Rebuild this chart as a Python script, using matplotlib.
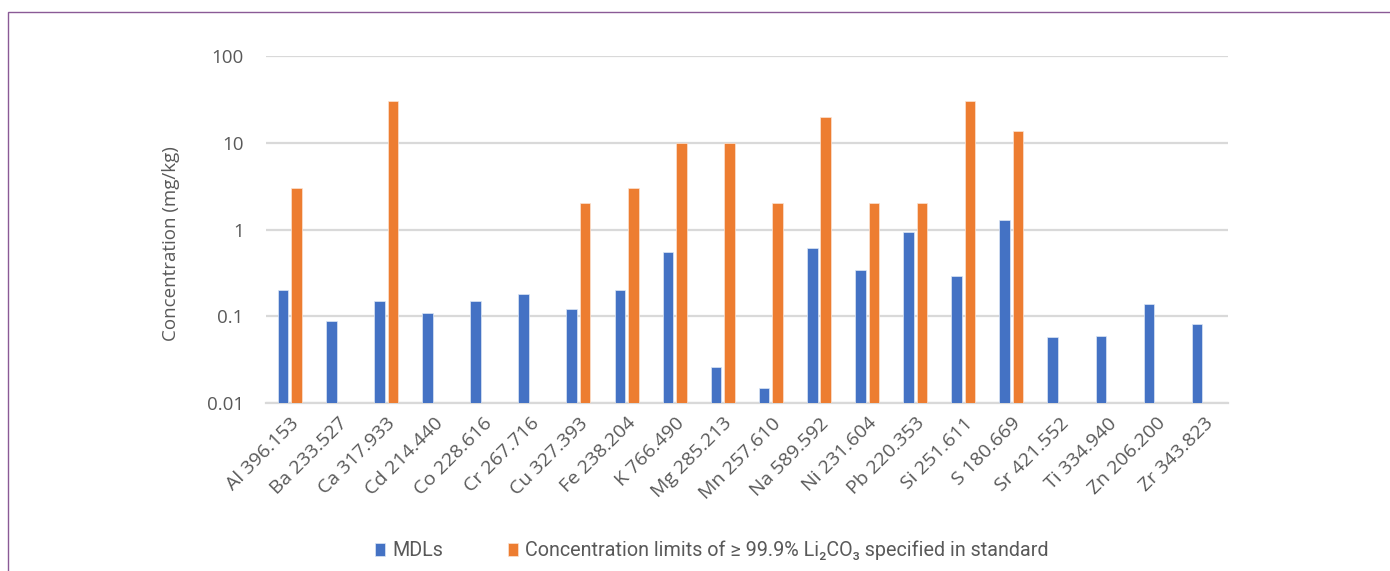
import matplotlib.pyplot as plt
import numpy as np
from matplotlib.patches import Rectangle

# emission lines measured
lines = [
    "Al 396.153", "Ba 233.527", "Ca 317.933", "Cd 214.440", "Co 228.616",
    "Cr 267.716", "Cu 327.393", "Fe 238.204", "K 766.490", "Mg 285.213",
    "Mn 257.610", "Na 589.592", "Ni 231.604", "Pb 220.353", "Si 251.611",
    "S 180.669", "Sr 421.552", "Ti 334.940", "Zn 206.200", "Zr 343.823",
]

# method detection limits (mg/kg)
mdls = [
    0.20, 0.088, 0.15, 0.108, 0.15,
    0.18, 0.12, 0.20, 0.55, 0.026,
    0.015, 0.61, 0.34, 0.94, 0.29,
    1.28, 0.057, 0.06, 0.14, 0.082,
]

# limits for battery-grade Li2CO3 (mg/kg); nan where no limit is set
limits = [
    3, np.nan, 30, np.nan, np.nan,
    np.nan, 2, 3, 10, 10,
    2, 20, 2, 2, 30,
    13.5, np.nan, np.nan, np.nan, np.nan,
]

BLUE = "#4472C4"
ORANGE = "#ED7D31"
GREY_TEXT = "#595959"
GRID = "#d9d9d9"

plt.rcParams["font.family"] = ["Open Sans", "DejaVu Sans"]

fig = plt.figure(figsize=(13.9, 5.71), dpi=100)
ax = fig.add_axes([0.1914, 0.2942, 0.6921, 0.6077])

x = np.arange(len(lines))
width = 0.22
ax.bar(x - 0.145, mdls, width, color=BLUE, edgecolor="#dce6f5",
       linewidth=0.5, label="MDLs", zorder=3)
ax.bar(x + 0.135, limits, width, color=ORANGE, edgecolor="#fbe3d3",
       linewidth=0.5,
       label="Concentration limits of \u2265 99.9% Li\u2082CO\u2083 specified in standard",
       zorder=3)

ax.set_yscale("log")
ax.set_ylim(0.01, 100)
ax.set_xlim(-0.5, len(lines) - 0.5)
ax.set_yticks([0.01, 0.1, 1, 10, 100])
ax.set_yticklabels(["0.01", "0.1", "1", "10", "100"])
ax.minorticks_off()
ax.yaxis.grid(True, color=GRID, linewidth=1.6, zorder=0)

for side in ["top", "right", "left"]:
    ax.spines[side].set_visible(False)
ax.spines["bottom"].set_color(GRID)
ax.spines["bottom"].set_linewidth(1.6)

ax.set_xticks(x)
ax.set_xticklabels(lines, rotation=45, ha="right", rotation_mode="anchor",
                   fontsize=14, color=GREY_TEXT)
ax.tick_params(axis="x", length=0, pad=8)
ax.tick_params(axis="y", length=0, pad=16, labelsize=13.5, labelcolor=GREY_TEXT)

ax.set_ylabel("Concentration (mg/kg)", fontsize=13.5, color=GREY_TEXT)
ax.yaxis.set_label_coords(-0.089, 0.46)

fig.legend(loc="center", bbox_to_anchor=(0.512, 0.036), ncol=2, frameon=False,
           prop={"family": ["Roboto", "DejaVu Sans"], "size": 14.2},
           labelcolor=GREY_TEXT, handlelength=0.5, handleheight=0.6,
           handletextpad=0.35, columnspacing=3.3)

# thin frame around the figure panel
fig.patches.append(Rectangle((8 / 1390, -0.05), 1.1, 1 - 12 / 571 + 0.05,
                             transform=fig.transFigure, fill=False,
                             edgecolor="#8a5a96", linewidth=1.0))

fig.savefig("out.png", dpi=100)
